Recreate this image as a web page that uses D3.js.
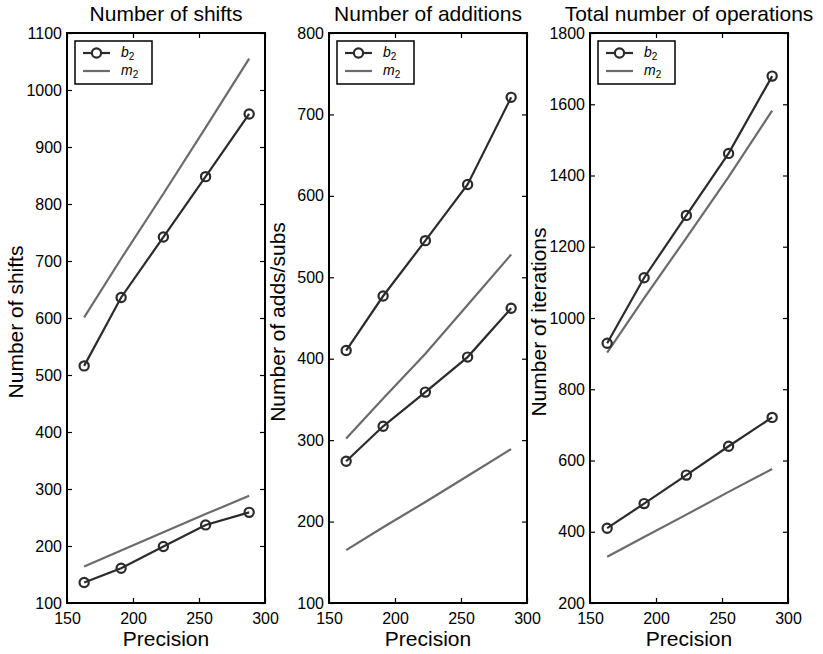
<!DOCTYPE html>
<html>
<head>
<meta charset="utf-8">
<script src="https://cdn.jsdelivr.net/npm/d3@7"></script>
<style>
  html, body { margin: 0; padding: 0; background: #fff; }
  svg { display: block; font-family: "Liberation Sans", Arial, Helvetica, sans-serif; }
</style>
</head>
<body>
<svg id="chart" width="823" height="654"></svg>
<script>
// Precision values on the shared x axis
const precision = [163, 191, 223, 255, 288];
const xTicks = [150, 200, 250, 300];

// Number of shifts
const shiftsB2Upper = [516, 636, 742, 848, 958];
const shiftsB2Lower = [136, 161, 199, 237, 259];
const shiftsM2Upper = [601, 704, 818, 934, 1055];
const shiftsM2Lower = [164, 192, 224, 256, 288];

// Number of additions / subtractions
const addsB2Upper = [410, 477, 545, 614, 721];
const addsB2Lower = [274, 317, 359, 402, 462];
const addsM2Upper = [302, 351, 406, 466, 528];
const addsM2Lower = [165, 193, 224, 256, 289];

// Total number of operations
const totalB2Upper = [929, 1113, 1288, 1462, 1679];
const totalB2Lower = [410, 479, 559, 640, 721];
const totalM2Upper = [903, 1056, 1225, 1396, 1582];
const totalM2Lower = [330, 385, 448, 512, 576];

// y tick labels per panel
const shiftsTicks = [100, 200, 300, 400, 500, 600, 700, 800, 900, 1000, 1100];
const addsTicks = [100, 200, 300, 400, 500, 600, 700, 800];
const totalTicks = [200, 400, 600, 800, 1000, 1200, 1400, 1600, 1800];

const titles = ["Number of shifts", "Number of additions", "Total number of operations"];
const yLabels = ["Number of shifts", "Number of adds/subs", "Number of iterations"];
const legendNames = ["b", "m"];

const panels = [
  { title: titles[0], ylabel: yLabels[0], ticks: shiftsTicks,
    b2: [shiftsB2Upper, shiftsB2Lower], m2: [shiftsM2Upper, shiftsM2Lower] },
  { title: titles[1], ylabel: yLabels[1], ticks: addsTicks,
    b2: [addsB2Upper, addsB2Lower], m2: [addsM2Upper, addsM2Lower] },
  { title: titles[2], ylabel: yLabels[2], ticks: totalTicks,
    b2: [totalB2Upper, totalB2Lower], m2: [totalM2Upper, totalM2Lower] }
];

const svg = d3.select("#chart");
const lefts = [67, 329, 590];
const plotTop = 33, W = 198, H = 570;
const dark = "#2b2b2b", grey = "#6b6b6b";
const fmt = d3.format("d");

panels.forEach((p, i) => {
  const g = svg.append("g").attr("transform", `translate(${lefts[i]},${plotTop})`);
  const x = d3.scaleLinear().domain([150, 300]).range([0, W]);
  const y = d3.scaleLinear().domain(d3.extent(p.ticks)).range([H, 0]);

  // m2 series (plain grey lines)
  const line = d3.line().x((d, k) => x(precision[k])).y(d => y(d));
  p.m2.forEach(s => {
    g.append("path").datum(s).attr("d", line)
      .attr("fill", "none").attr("stroke", grey).attr("stroke-width", 2.2);
  });
  // b2 series (dark lines with open circles)
  p.b2.forEach(s => {
    g.append("path").datum(s).attr("d", line)
      .attr("fill", "none").attr("stroke", dark).attr("stroke-width", 2.2);
    g.selectAll(null).data(s).enter().append("circle")
      .attr("cx", (d, k) => x(precision[k])).attr("cy", d => y(d))
      .attr("r", 4.6).attr("fill", "none").attr("stroke", dark).attr("stroke-width", 2.2);
  });

  // axes: ticks point inward, mirrored on top and right
  const styleAxis = sel => {
    sel.select(".domain").remove();
    sel.selectAll(".tick line").attr("stroke", "#000").attr("stroke-width", 1.2);
    sel.selectAll(".tick text").attr("fill", "#000").style("font-size", "16px");
  };
  g.append("g").attr("transform", `translate(0,${H})`)
    .call(d3.axisBottom(x).tickValues(xTicks).tickFormat(fmt)
      .tickSizeInner(-5).tickSizeOuter(0).tickPadding(10))
    .call(styleAxis);
  g.append("g")
    .call(d3.axisTop(x).tickValues(xTicks).tickSizeInner(-5).tickSizeOuter(0).tickFormat(""))
    .call(styleAxis);
  g.append("g")
    .call(d3.axisLeft(y).tickValues(p.ticks).tickFormat(fmt)
      .tickSizeInner(-5).tickSizeOuter(0).tickPadding(5))
    .call(styleAxis);
  g.append("g").attr("transform", `translate(${W},0)`)
    .call(d3.axisRight(y).tickValues(p.ticks).tickSizeInner(-5).tickSizeOuter(0).tickFormat(""))
    .call(styleAxis);

  // plot frame
  g.append("rect").attr("x", 0).attr("y", 0).attr("width", W).attr("height", H)
    .attr("fill", "none").attr("stroke", "#000").attr("stroke-width", 2);

  // title
  svg.append("text").attr("x", lefts[i] + W / 2).attr("y", 21)
    .attr("text-anchor", "middle").style("font-size", "21px").attr("fill", "#000")
    .text(p.title);
  // x label
  svg.append("text").attr("x", lefts[i] + W / 2).attr("y", 646)
    .attr("text-anchor", "middle").style("font-size", "21px").attr("fill", "#000")
    .text("Precision");
  // y label
  svg.append("text")
    .attr("transform", `translate(${lefts[i] - 44},${plotTop + H / 2 + 4}) rotate(-90)`)
    .attr("text-anchor", "middle").style("font-size", "21px").attr("fill", "#000")
    .text(p.ylabel);

  // legend
  const lg = g.append("g").attr("transform", "translate(8,8)");
  lg.append("rect").attr("width", 77).attr("height", 43)
    .attr("fill", "#fff").attr("stroke", "#000").attr("stroke-width", 1.5);
  lg.append("line").attr("x1", 8).attr("x2", 35).attr("y1", 12).attr("y2", 12)
    .attr("stroke", dark).attr("stroke-width", 2.2);
  lg.append("circle").attr("cx", 21.5).attr("cy", 12).attr("r", 4.6)
    .attr("fill", "#fff").attr("stroke", dark).attr("stroke-width", 2.2);
  lg.append("line").attr("x1", 8).attr("x2", 35).attr("y1", 30).attr("y2", 30)
    .attr("stroke", grey).attr("stroke-width", 2.2);
  legendNames.forEach((n, k) => {
    const t = lg.append("text").attr("x", 46).attr("y", 16 + k * 18)
      .style("font-size", "14px").attr("fill", "#000");
    t.append("tspan").style("font-style", "italic").text(n);
    t.append("tspan").attr("dy", 3).style("font-size", "10px").text("2");
  });
});
</script>
</body>
</html>
